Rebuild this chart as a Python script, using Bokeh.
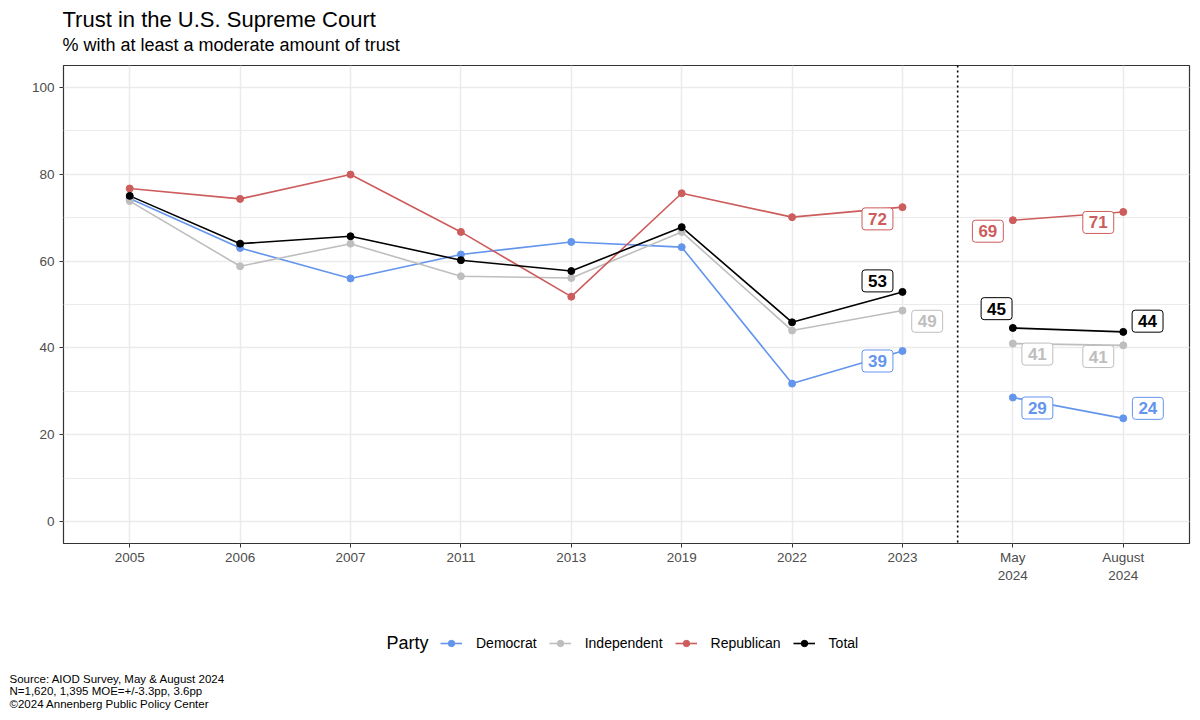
from bokeh.plotting import figure
from bokeh.layouts import column
from bokeh.models import (ColumnDataSource, FactorRange, Range1d, Span, Label,
                          Legend, LegendItem, SingleIntervalTicker)
from bokeh.core.properties import value
from bokeh.embed import file_html
from bokeh.resources import INLINE

# ---------------- data ----------------
periods = ["2005", "2006", "2007", "2011", "2013", "2019", "2022", "2023",
           "May\n2024", "August\n2024"]
democrat = [74.4, 63.0, 56.0, 61.5, 64.4, 63.2, 31.8, 39.3, 28.6, 23.8]
independent = [73.8, 58.8, 64.0, 56.5, 56.1, 66.7, 44.0, 48.6, 41.0, 40.6]
republican = [76.7, 74.3, 79.9, 66.7, 51.8, 75.6, 70.1, 72.4, 69.4, 71.3]
total = [75.0, 64.0, 65.7, 60.2, 57.7, 67.8, 45.9, 52.9, 44.6, 43.7]
parties = ["Democrat", "Independent", "Republican", "Total"]

title_text = "Trust in the U.S. Supreme Court"
subtitle_text = "% with at least a moderate amount of trust"
legend_title = "Party"
source_lines = ["Source: AIOD Survey, May & August 2024",
                "N=1,620, 1,395 MOE=+/-3.3pp, 3.6pp",
                "\u00a92024 Annenberg Public Policy Center"]

# ---------------- styles ----------------
FONT = "Liberation Sans"
W = 1196
colors = {"Democrat": "#6495ED", "Independent": "#BEBEBE",
          "Republican": "#CD5C5C", "Total": "#000000"}
series = {"Democrat": democrat, "Independent": independent,
          "Republican": republican, "Total": total}
n_hist = 8            # survey years 2005..2023 form one segment, 2024 waves another
labeled_idx = [7, 8, 9]
# label offsets in screen px (dx right, dy down) for 2023, May 2024, Aug 2024
label_offsets = {
    "Democrat":    [(-25, 10), (24.5, 10.5), (24.6, -10)],
    "Independent": [(24.7, 10.7), (24.5, 10.5), (-25, 11.2)],
    "Republican":  [(-25, 11.7), (-25, 11), (-25, 10.5)],
    "Total":       [(-25, -11), (-16.3, -19.3), (24.3, -10.7)],
}


def blank_fig(height):
    f = figure(width=W, height=height, x_range=Range1d(0, 1), y_range=Range1d(0, 1),
               x_axis_type=None, y_axis_type=None, output_backend="svg",
               toolbar_location=None, title=None, min_border=0,
               min_border_left=0, min_border_right=0,
               min_border_top=0, min_border_bottom=0, frame_align=False)
    f.outline_line_color = None
    f.background_fill_color = "white"
    f.border_fill_color = "white"
    return f


def add_label(fig, text, x, y, size, color="black"):
    fig.add_layout(Label(x=x, y=y, x_units="screen", y_units="screen", text=text,
                         text_font=FONT, text_font_size=size, text_color=color,
                         text_baseline="alphabetic", text_align="left"))


# ---------------- header ----------------
top = blank_fig(64)
add_label(top, title_text, 62, 45, "22px")
add_label(top, subtitle_text, 62, 20, "18px")

# ---------------- main chart ----------------
p = figure(width=W, height=521,
           x_range=FactorRange(factors=periods, range_padding=0.02),
           y_range=Range1d(-5, 105),
           output_backend="svg", toolbar_location=None, title=None,
           min_border_left=63, min_border_right=7,
           min_border_top=1, min_border_bottom=42, frame_align=False)

p.background_fill_color = "white"
p.border_fill_color = "white"
p.outline_line_color = "#333333"
p.outline_line_width = 1.2

p.xgrid.grid_line_color = "#EBEBEB"
p.xgrid.grid_line_width = 1.5
p.ygrid.grid_line_color = "#EBEBEB"
p.ygrid.grid_line_width = 1.5
p.ygrid.minor_grid_line_color = "#EBEBEB"
p.ygrid.minor_grid_line_width = 1.0

p.yaxis.ticker = SingleIntervalTicker(interval=20, num_minor_ticks=2)
for ax in (p.xaxis, p.yaxis):
    ax.axis_line_color = None
    ax.major_tick_line_color = "#333333"
    ax.major_tick_line_width = 1
    ax.major_tick_out = 4
    ax.major_tick_in = 0
    ax.minor_tick_line_color = None
    ax.major_label_text_font = FONT
    ax.major_label_text_font_size = "13.5px"
    ax.major_label_text_color = "#4D4D4D"
p.yaxis.major_label_standoff = 5
p.xaxis.major_label_standoff = 2

# divider between survey years and 2024 waves
p.add_layout(Span(location=8, dimension="height", line_color="black",
                  line_width=1.6, line_dash="2 3"))

for name in parties:
    vals = series[name]
    c = colors[name]
    p.line(x=periods[:n_hist], y=vals[:n_hist], line_color=c, line_width=1.6)
    p.line(x=periods[n_hist:], y=vals[n_hist:], line_color=c, line_width=1.6)

for name in parties:
    p.scatter(x=periods, y=series[name], size=7,
              fill_color=colors[name], line_color=colors[name])

for name in parties:
    vals = series[name]
    c = colors[name]
    src = ColumnDataSource(dict(
        x=[periods[i] for i in labeled_idx],
        y=[vals[i] for i in labeled_idx],
        label=[str(int(round(vals[i]))) for i in labeled_idx],
        dx=[o[0] for o in label_offsets[name]],
        dy=[o[1] for o in label_offsets[name]],
    ))
    p.text(x="x", y="y", text="label", source=src, x_offset="dx", y_offset="dy",
           text_align="center", text_baseline="middle",
           text_font=value(FONT), text_font_style="bold", text_font_size="17px",
           text_color=c, background_fill_color="white",
           border_line_color=c, border_line_width=1,
           padding=dict(left=6, right=6, top=5, bottom=5), border_radius=3)

# ---------------- footer: legend + source ----------------
bottom = blank_fig(131)
items = []
for name in parties:
    c = colors[name]
    lr = bottom.line(x=[-10, -9], y=[-10, -10], line_color=c, line_width=1.6)
    sr = bottom.scatter(x=[-10], y=[-10], size=7, fill_color=c, line_color=c)
    items.append(LegendItem(label=name, renderers=[lr, sr]))
legend = Legend(items=items, orientation="horizontal", location=(440, 65),
                border_line_color=None, background_fill_alpha=0,
                padding=0, margin=0, spacing=12,
                glyph_width=22, glyph_height=16, label_height=16,
                label_standoff=14, label_text_font=FONT,
                label_text_font_size="14px", label_text_color="black")
bottom.add_layout(legend)
add_label(bottom, legend_title, 386, 73.5, "18px")
for i, line in enumerate(source_lines):
    add_label(bottom, line, 9, 38 - 12.5 * i, "11.5px")

layout = column(top, p, bottom, spacing=0)
open("out.html", "w").write(file_html(layout, INLINE))
